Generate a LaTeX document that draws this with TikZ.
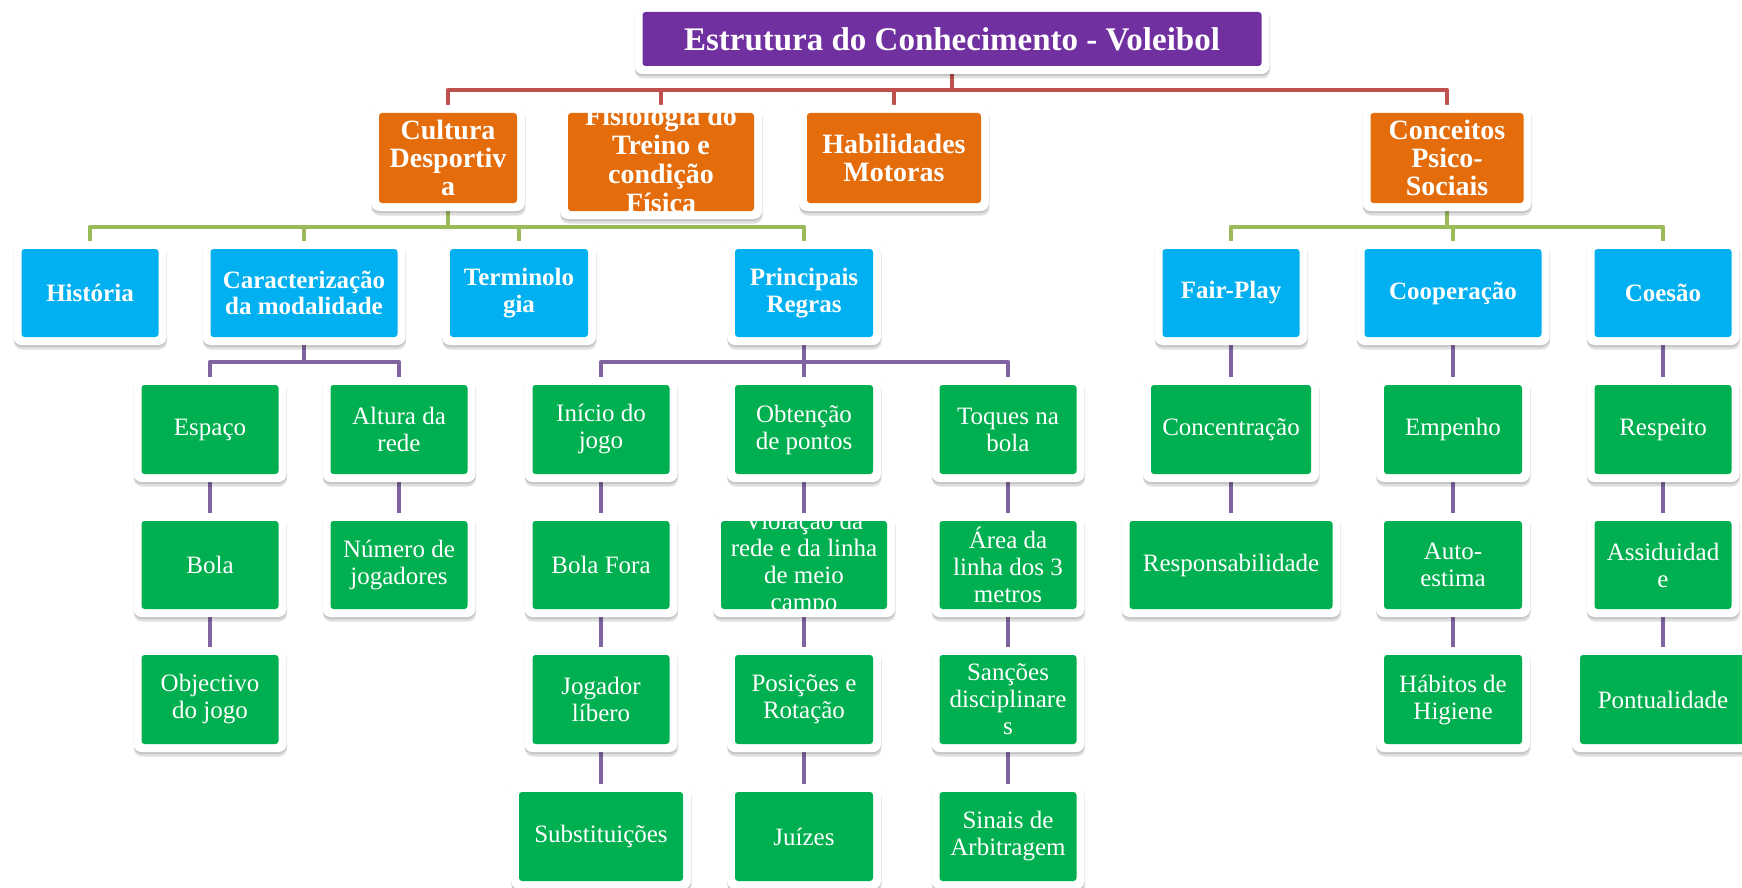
\documentclass[tikz,border=0pt]{standalone}
\usepackage{fontspec}
\setmainfont{Liberation Serif}
\usetikzlibrary{backgrounds,shadows}
\definecolor{cpurple}{HTML}{7030A0}
\definecolor{corange}{HTML}{E46C0A}
\definecolor{cblue}{HTML}{00B0F0}
\definecolor{cgreen}{HTML}{00B050}
\definecolor{lred}{HTML}{C0504D}
\definecolor{lgreen}{HTML}{9BBB59}
\definecolor{lpurple}{HTML}{8064A2}
\newcommand\clipcell[2]{\raisebox{#1}{\smash{\begin{tabular}{@{}c@{}}#2\end{tabular}}}}
\begin{document}
\begin{tikzpicture}[x=1pt,y=-1pt,
 cframe/.style={rectangle, rounded corners=8pt, fill=white, inner sep=0pt, align=center, text=white,
   drop shadow={shadow xshift=0pt, shadow yshift=-2pt, opacity=0.12, fill=black},
   drop shadow={shadow xshift=0.5pt, shadow yshift=-4.5pt, opacity=0.12, fill=black},
   path picture={\fill[#1, rounded corners=3pt] ([shift={(8pt,8pt)}]path picture bounding box.south west) rectangle ([shift={(-8pt,-8pt)}]path picture bounding box.north east);}},
 sz/.style 2 args={minimum width=#1pt+16pt, minimum height=#2pt+16pt},
 tbox/.style={cframe=cpurple, font=\fontsize{33}{36}\selectfont\bfseries},
 obox/.style={cframe=corange, font=\fontsize{28}{28}\selectfont\bfseries},
 bbox/.style={cframe=cblue, font=\fontsize{25}{26.5}\selectfont\bfseries},
 gbox/.style={cframe=cgreen, font=\fontsize{25}{27}\selectfont},
 lnr/.style={draw=lred, line width=4.5pt, line join=round},
 lng/.style={draw=lgreen, line width=4.5pt, line join=round},
 lnp/.style={draw=lpurple, line width=4.5pt, line join=round},
]
\useasboundingbox (0,0) rectangle (1742,888);
% title
\node[tbox, sz={619}{54}] (title) at (952,39) {Estrutura do Conhecimento - Voleibol};
% level 1
\node[obox, sz={138}{90}] (cult) at (448,158) {Cultura\\Desportiv\\a};
\node[obox, sz={186}{98}, font=\fontsize{28}{29}\selectfont\bfseries] (fisi) at (661,162) {\clipcell{-14pt}{Fisiologia do\\Treino e\\condição\\Física}};
\node[obox, sz={174}{90}] (habi) at (894,158) {Habilidades\\Motoras};
\node[obox, sz={153}{90}] (conc) at (1447,158) {Conceitos\\Psico-\\Sociais};
% level 2
\node[bbox, sz={137}{88}] (hist) at (90,293) {História};
\node[bbox, sz={187}{88}] (cara) at (304,293) {Caracterização\\da modalidade};
\node[bbox, sz={138}{88}] (term) at (519,293) {Terminolo\\gia};
\node[bbox, sz={138}{88}] (regr) at (804,293) {Principais\\Regras};
\node[bbox, sz={137}{88}] (fair) at (1231,293) {Fair-Play};
\node[bbox, sz={177}{88}] (coop) at (1453,293) {Cooperação};
\node[bbox, sz={137}{88}] (coes) at (1663,293) {Coesão};
% level 3
\node[gbox, sz={137}{89}] (espa) at (210,429.5) {Espaço};
\node[gbox, sz={137}{89}] (altu) at (399,429.5) {Altura da\\rede};
\node[gbox, sz={137}{89}] (inic) at (601,429.5) {Início do\\jogo};
\node[gbox, sz={138}{89}] (obte) at (804,429.5) {Obtenção\\de pontos};
\node[gbox, sz={137}{89}] (toqu) at (1008,429.5) {Toques na\\bola};
\node[gbox, sz={160}{89}] (cent) at (1231,429.5) {Concentração};
\node[gbox, sz={138}{89}] (empe) at (1453,429.5) {Empenho};
\node[gbox, sz={137}{89}] (rspt) at (1663,429.5) {Respeito};
% level 4
\node[gbox, sz={137}{88}] (bola) at (210,565) {Bola};
\node[gbox, sz={137}{88}] (nume) at (399,565) {Número de\\jogadores};
\node[gbox, sz={137}{88}] (bfor) at (601,565) {Bola Fora};
\node[gbox, sz={166}{88}] (viol) at (804,565) {\clipcell{-11.5pt}{Violação da\\rede e da linha\\de meio\\campo}};
\node[gbox, sz={137}{88}] (area) at (1008,565) {Área da\\linha dos 3\\metros};
\node[gbox, sz={203}{88}] (resp) at (1231,565) {Responsabilidade};
\node[gbox, sz={138}{88}] (auto) at (1453,565) {Auto-\\estima};
\node[gbox, sz={137}{88}] (assi) at (1663,565) {Assiduidad\\e};
% level 5
\node[gbox, sz={137}{89}] (obje) at (210,699.5) {Objectivo\\do jogo};
\node[gbox, sz={137}{89}] (joga) at (601,699.5) {Jogador\\líbero};
\node[gbox, sz={138}{89}] (posi) at (804,699.5) {Posições e\\Rotação};
\node[gbox, sz={137}{89}] (sanc) at (1008,699.5) {Sanções\\disciplinare\\s};
\node[gbox, sz={138}{89}] (habt) at (1453,699.5) {Hábitos de\\Higiene};
\node[gbox, sz={166}{89}] (pont) at (1663,699.5) {Pontualidade};
% level 6
\node[gbox, sz={164}{89}] (subs) at (601,836.5) {Substituições};
\node[gbox, sz={138}{89}] (juiz) at (804,836.5) {Juízes};
\node[gbox, sz={137}{89}] (sina) at (1008,836.5) {Sinais de\\Arbitragem};
% connectors
\coordinate (rbus) at (0,90);
\coordinate (gbus) at (0,227);
\coordinate (pbus) at (0,362);
\begin{scope}[on background layer]
 \draw[lnr] (title.center) -- (title |- rbus);
 \draw[lnr] (cult.center) -- (cult |- rbus) -- (conc |- rbus) -- (conc.center);
 \draw[lnr] (fisi.center) -- (fisi |- rbus);
 \draw[lnr] (habi.center) -- (habi |- rbus);
 \draw[lng] (cult.center) -- (cult |- gbus);
 \draw[lng] (hist.center) -- (hist |- gbus) -- (regr |- gbus) -- (regr.center);
 \draw[lng] (cara.center) -- (cara |- gbus);
 \draw[lng] (term.center) -- (term |- gbus);
 \draw[lng] (conc.center) -- (conc |- gbus);
 \draw[lng] (fair.center) -- (fair |- gbus) -- (coes |- gbus) -- (coes.center);
 \draw[lng] (coop.center) -- (coop |- gbus);
 \draw[lnp] (cara.center) -- (cara |- pbus);
 \draw[lnp] (espa.center) -- (espa |- pbus) -- (altu |- pbus) -- (altu.center);
 \draw[lnp] (regr.center) -- (regr |- pbus);
 \draw[lnp] (inic.center) -- (inic |- pbus) -- (toqu |- pbus) -- (toqu.center);
 \draw[lnp] (obte.center) -- (obte |- pbus);
 \draw[lnp] (espa.center) -- (bola.center) -- (obje.center);
 \draw[lnp] (altu.center) -- (nume.center);
 \draw[lnp] (inic.center) -- (bfor.center) -- (joga.center) -- (subs.center);
 \draw[lnp] (obte.center) -- (viol.center) -- (posi.center) -- (juiz.center);
 \draw[lnp] (toqu.center) -- (area.center) -- (sanc.center) -- (sina.center);
 \draw[lnp] (fair.center) -- (cent.center) -- (resp.center);
 \draw[lnp] (coop.center) -- (empe.center) -- (auto.center) -- (habt.center);
 \draw[lnp] (coes.center) -- (rspt.center) -- (assi.center) -- (pont.center);
\end{scope}
\end{tikzpicture}
\end{document}
